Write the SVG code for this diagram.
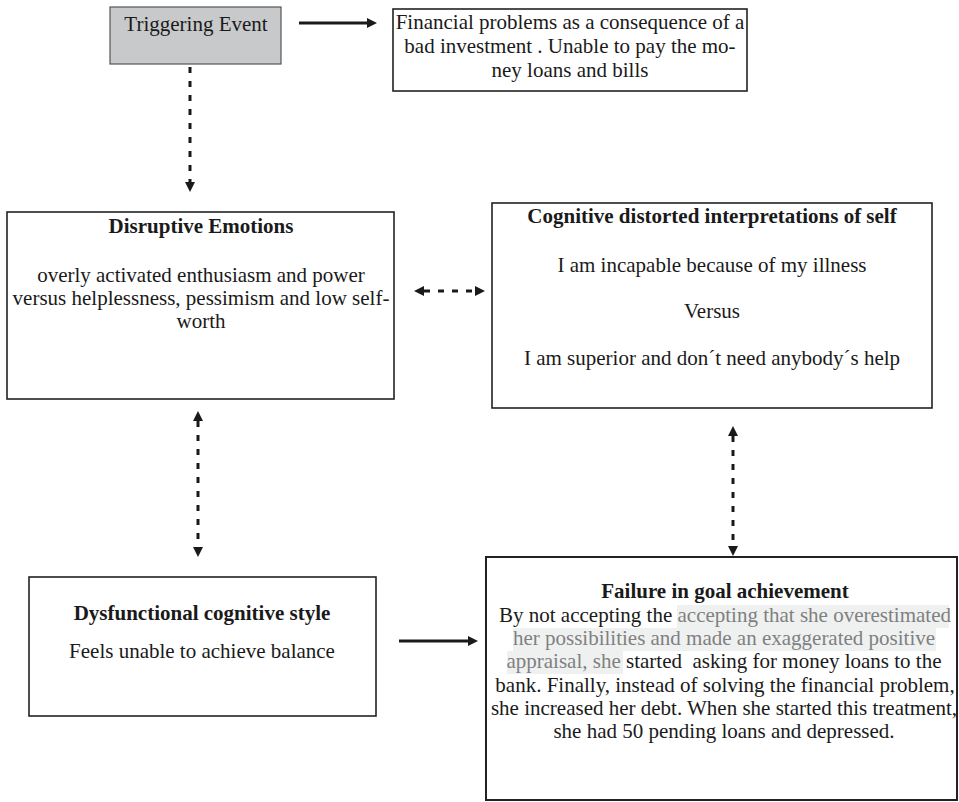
<svg xmlns="http://www.w3.org/2000/svg" width="959" height="802" viewBox="0 0 959 802">
<style>
text{font-family:'Liberation Serif','Times New Roman',serif;font-size:21px;fill:#1a1a1a}
.t{text-anchor:middle}
.b{font-weight:bold}
.box{fill:#fff;stroke:#222;stroke-width:1.6}
.g{fill:#808080}
.solid{stroke:#1a1a1a;stroke-width:3;fill:none}
.dot{stroke:#1a1a1a;stroke-width:3;fill:none;stroke-dasharray:6 8}
</style>
<defs>
<marker id="ah" viewBox="0 0 10 10" refX="0" refY="5" markerWidth="10" markerHeight="10" markerUnits="userSpaceOnUse" orient="auto-start-reverse">
<path d="M0,0 L10,5 L0,10 z" fill="#1a1a1a"/>
</marker>
</defs>
<rect width="959" height="802" fill="#fff"/>
<g id="connectors">
<line class="solid" x1="299" y1="23" x2="367" y2="23" marker-end="url(#ah)"/>
<line class="dot" x1="190" y1="67" x2="190" y2="182" marker-end="url(#ah)"/>
<line class="dot" x1="424" y1="291" x2="475" y2="291" marker-start="url(#ah)" marker-end="url(#ah)"/>
<line class="dot" x1="198" y1="421" x2="198" y2="547" marker-start="url(#ah)" marker-end="url(#ah)"/>
<line class="dot" x1="733" y1="436" x2="733" y2="546" marker-start="url(#ah)" marker-end="url(#ah)"/>
<line class="solid" x1="399" y1="641" x2="468" y2="641" marker-end="url(#ah)"/>
</g>
<g id="triggering">
<rect x="110" y="7" width="171" height="57" fill="#c8c9cb" stroke="#555" stroke-width="1.2"/>
<text class="t" x="196" y="31">Triggering Event</text>
</g>
<g id="financial">
<rect class="box" x="393" y="9" width="354" height="82"/>
<text class="t" x="570" y="29">Financial problems as a consequence of a</text>
<text class="t" x="570" y="53">bad investment . Unable to pay the mo-</text>
<text class="t" x="570" y="77">ney loans and bills</text>
</g>
<g id="disruptive">
<rect class="box" x="7" y="212" width="387" height="187"/>
<text class="t b" x="201" y="233">Disruptive Emotions</text>
<text class="t" x="201" y="282">overly activated enthusiasm and power</text>
<text class="t" x="201" y="305">versus helplessness, pessimism and low self-</text>
<text class="t" x="201" y="328">worth</text>
</g>
<g id="cognitive">
<rect class="box" x="492" y="203" width="440" height="205"/>
<text class="t b" x="712" y="223">Cognitive distorted interpretations of self</text>
<text class="t" x="712" y="272">I am incapable because of my illness</text>
<text class="t" x="712" y="318">Versus</text>
<text class="t" x="712" y="365">I am superior and don´t need anybody´s help</text>
</g>
<g id="dysfunctional">
<rect class="box" x="29" y="577" width="347" height="139"/>
<text class="t b" x="202" y="620">Dysfunctional cognitive style</text>
<text class="t" x="202" y="658">Feels unable to achieve balance</text>
</g>
<g id="failure">
<rect x="486" y="557" width="471" height="243" fill="#fff" stroke="#222" stroke-width="2"/>
<rect x="677" y="605" width="272" height="23" fill="#eff1f1"/>
<rect x="513" y="628" width="423" height="23" fill="#eff1f1"/>
<rect x="507" y="651" width="116" height="23" fill="#eff1f1"/>
<text class="t b" x="725" y="598">Failure in goal achievement</text>
<text class="t" x="725" y="622">By not accepting the <tspan class="g">accepting that she overestimated</tspan></text>
<text class="t g" x="724" y="645">her possibilities and made an exaggerated positive</text>
<text class="t" x="724" y="668" xml:space="preserve"><tspan class="g">appraisal, she</tspan> started  asking for money loans to the</text>
<text class="t" x="725" y="692">bank. Finally, instead of solving the financial problem,</text>
<text class="t" x="724" y="715">she increased her debt. When she started this treatment,</text>
<text class="t" x="724" y="738">she had 50 pending loans and depressed.</text>
</g>
</svg>
